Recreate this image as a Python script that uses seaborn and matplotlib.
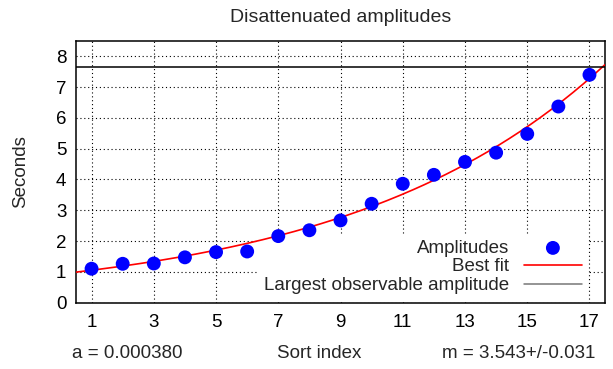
import numpy as np
import pandas as pd
import matplotlib
matplotlib.use("Agg")
import matplotlib.pyplot as plt
import seaborn as sns

# ---- data ----
sort_index = [1, 2, 3, 4, 5, 6, 7, 8, 9, 10, 11, 12, 13, 14, 15, 16, 17]
amplitudes = [1.10, 1.26, 1.27, 1.47, 1.64, 1.66, 2.16, 2.35, 2.67, 3.21,
              3.86, 4.15, 4.57, 4.87, 5.48, 6.37, 7.40]
largest_observable = 7.67
x_ticks = [1, 3, 5, 7, 9, 11, 13, 15, 17]
y_ticks = [0, 1, 2, 3, 4, 5, 6, 7, 8]
title = "Disattenuated amplitudes"
x_label = "Sort index"
y_label = "Seconds"
left_note = "a = 0.000380"
right_note = "m = 3.543+/-0.031"

sns.set_style("white")
plt.rcParams['font.family'] = ['Liberation Sans', 'DejaVu Sans']

FS = 13.5

df = pd.DataFrame({"idx": sort_index, "amp": amplitudes})

# exponential best fit derived from the data
xa = np.array(sort_index, float)
ya = np.array(amplitudes, float)
b, ln_a = np.polyfit(xa, np.log(ya), 1, w=ya)
xf = np.linspace(0.5, 17.5, 200)
fit_df = pd.DataFrame({"idx": xf, "amp": np.exp(ln_a + b * xf)})

fig = plt.figure(figsize=(6.13, 3.69), dpi=100)
ax = fig.add_axes([0.124, 0.180, 0.863, 0.709])

ax.set_xlim(0.5, 17.5)
ax.set_ylim(0, 8.5)
ax.set_xticks(x_ticks)
ax.set_yticks(y_ticks)
ax.grid(True, color="black", linestyle=(0, (1, 2.5)), linewidth=0.8, zorder=0.5)
ax.set_axisbelow(True)

sns.scatterplot(data=df, x="idx", y="amp", ax=ax, color="#0000ff", s=100,
                edgecolor="none", label="Amplitudes", zorder=4)
sns.lineplot(data=fit_df, x="idx", y="amp", ax=ax, color="#ff0000",
             linewidth=1.2, label="Best fit", zorder=3)
ax.axhline(largest_observable, color="black", linewidth=1.1,
           label="Largest observable amplitude", zorder=3)

for s in ax.spines.values():
    s.set_visible(True)
    s.set_color("black")
    s.set_linewidth(1.1)

ax.tick_params(axis="both", direction="in", length=5, width=1, colors="black",
               labelsize=FS)
ax.tick_params(axis="x", pad=8)
ax.tick_params(axis="y", pad=7)

ax.set_title(title, fontsize=14, pad=14)
ax.set_xlabel("")
ax.set_ylabel(y_label, fontsize=FS, labelpad=19)
fig.text(0.52, 0.043, x_label, ha="center", va="center", fontsize=FS)
fig.text(0.117, 0.043, left_note, ha="left", va="center", fontsize=FS)
fig.text(0.972, 0.043, right_note, ha="right", va="center", fontsize=FS)

leg = ax.legend(loc="lower right", bbox_to_anchor=(0.967, 0.011),
                markerfirst=False, frameon=True, facecolor="white",
                edgecolor="none", framealpha=1.0, fancybox=False,
                fontsize=FS, handlelength=3.1, handletextpad=0.8,
                labelspacing=0.08, borderpad=0.3, borderaxespad=0.0)
leg.set_zorder(2)
try:
    for col in leg._legend_handle_box.get_children():
        col.align = "right"
except Exception:
    pass
try:
    leg.legend_handles[2].set_color("#777777")
except Exception:
    pass

fig.savefig("out.png", dpi=100)
